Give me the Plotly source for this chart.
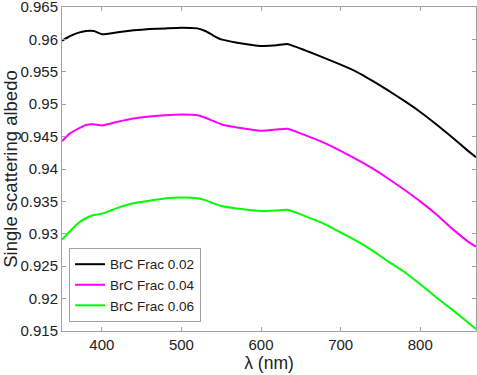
import plotly.graph_objects as go

wavelength = [350, 360, 370, 380, 390, 400, 420, 440, 460, 480, 500, 520, 530, 540, 550,
              570, 600, 620, 633, 660, 680, 700, 720, 740, 760, 780, 800, 820, 840, 860, 870]
frac_002 = [0.9598, 0.9605, 0.9610, 0.9613, 0.9613, 0.9608, 0.9611, 0.9614, 0.9616, 0.9617,
            0.9618, 0.9617, 0.9613, 0.9606, 0.9600, 0.9595, 0.9590, 0.9591, 0.9593, 0.9581,
            0.9571, 0.9561, 0.9550, 0.9536, 0.9521, 0.9505, 0.9488, 0.9469, 0.9449, 0.9428,
            0.9418]
frac_004 = [0.9443, 0.9455, 0.9462, 0.9468, 0.9469, 0.9467, 0.9473, 0.9478, 0.9481, 0.9483,
            0.9484, 0.9483, 0.9479, 0.9474, 0.9469, 0.9464, 0.9459, 0.9461, 0.9462, 0.9450,
            0.9440, 0.9428, 0.9415, 0.9401, 0.9385, 0.9368, 0.9350, 0.9330, 0.9308, 0.9288,
            0.9280]
frac_006 = [0.9291, 0.9304, 0.9316, 0.9324, 0.9329, 0.9331, 0.9340, 0.9347, 0.9351, 0.9355,
            0.9356, 0.9355, 0.9352, 0.9347, 0.9343, 0.9339, 0.9335, 0.9336, 0.9337, 0.9325,
            0.9315, 0.9302, 0.9289, 0.9274, 0.9257, 0.9241, 0.9222, 0.9202, 0.9183, 0.9163,
            0.9153]

series_names = ["BrC Frac 0.02", "BrC Frac 0.04", "BrC Frac 0.06"]
series_colors = ["#000000", "#ff00ff", "#00ff00"]

x_ticks = [400, 500, 600, 700, 800]
y_ticks = [0.915, 0.92, 0.925, 0.93, 0.935, 0.94, 0.945, 0.95, 0.955, 0.96, 0.965]
y_tick_labels = ["0.915", "0.92", "0.925", "0.93", "0.935", "0.94", "0.945", "0.95",
                 "0.955", "0.96", "0.965"]

fig = go.Figure()
for name, vals, col in zip(series_names, [frac_002, frac_004, frac_006], series_colors):
    fig.add_trace(go.Scatter(x=wavelength, y=vals, mode="lines", name=name,
                             line=dict(color=col, width=2, shape="spline", smoothing=0.4)))

axis_common = dict(showline=True, linecolor="#a0a0a0", linewidth=1, mirror="ticks",
                   ticks="inside", ticklen=4, tickcolor="#a0a0a0", showgrid=False,
                   zeroline=False, automargin=False, ticklabeloverflow="allow",
                   tickfont=dict(size=15, color="#222222"))

fig.update_layout(
    width=477, height=375,
    margin=dict(l=62, r=1, t=7, b=44),
    paper_bgcolor="white", plot_bgcolor="white",
    font=dict(family="Liberation Sans, Arial, sans-serif", color="#222222"),
    xaxis=dict(range=[350, 870], tickvals=x_ticks,
               title=dict(text="λ (nm)", font=dict(size=17.5), standoff=2), **axis_common),
    yaxis=dict(range=[0.915, 0.965], tickvals=y_ticks, ticktext=y_tick_labels,
               title=dict(text="Single scattering albedo", font=dict(size=18.5), standoff=2),
               **axis_common),
    legend=dict(x=0.017, y=0.028, xanchor="left", yanchor="bottom",
                bgcolor="white", bordercolor="#a0a0a0", borderwidth=1,
                font=dict(size=13.5, color="#222222"), tracegroupgap=0, itemwidth=30),
    showlegend=True,
)

fig.write_html("out.html", config={"displayModeBar": False},
               post_script="document.body.style.margin='0';document.body.style.padding='0';")
